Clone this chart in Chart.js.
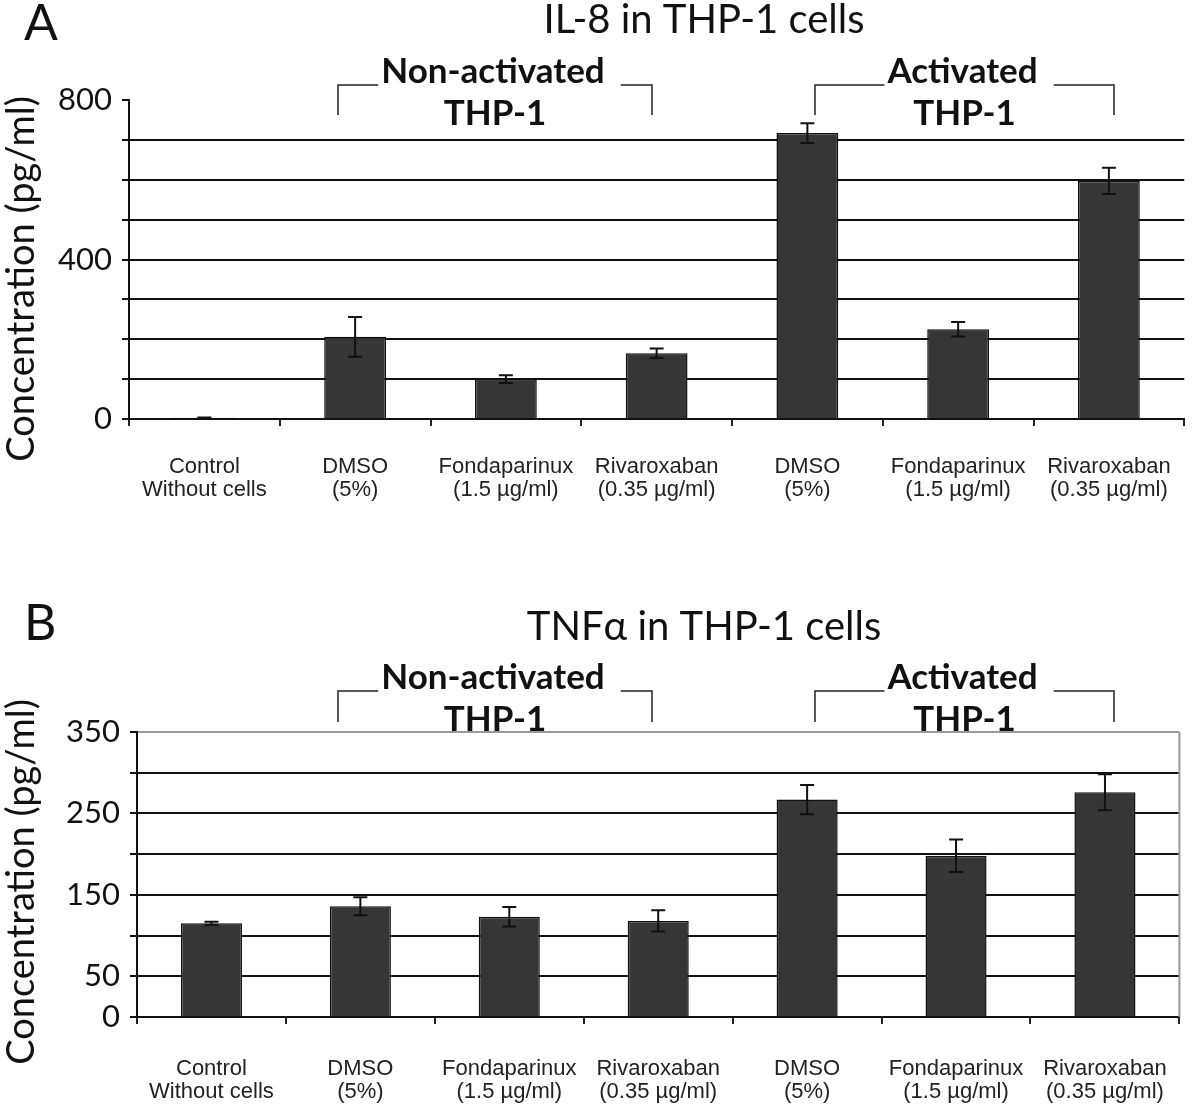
<!DOCTYPE html>
<html>
<head>
<meta charset="utf-8">
<script src="https://cdn.jsdelivr.net/npm/chart.js@4.4.1/dist/chart.umd.min.js"></script>
<style>
  body { margin: 0; background: #fff; }
  canvas { position: absolute; left: 0; }
  #il8 { top: 0; }
  #tnf { top: 600px; }
</style>
</head>
<body>
<canvas id="il8" width="1200" height="560"></canvas>
<canvas id="tnf" width="1200" height="509"></canvas>
<script>
var categories = [
  ["Control", "Without cells"],
  ["DMSO", "(5%)"],
  ["Fondaparinux", "(1.5 µg/ml)"],
  ["Rivaroxaban", "(0.35 µg/ml)"],
  ["DMSO", "(5%)"],
  ["Fondaparinux", "(1.5 µg/ml)"],
  ["Rivaroxaban", "(0.35 µg/ml)"]
];

// IL-8 (pg/ml), mean and error
var il8Values = [3, 206, 100, 165, 717, 225, 597];
var il8Errors = [1, 50, 10, 12, 25, 18, 33];
var il8TickLabels = [0, 400, 800];

// TNFa (pg/ml), mean and error
var tnfValues = [115, 136, 123, 118, 267, 198, 276];
var tnfErrors = [2, 11, 12, 13, 18, 20, 22];
var tnfTickLabels = [0, 50, 150, 250, 350];

var groupNames = [["Non-activated", "THP-1"], ["Activated", "THP-1"]];

var FONT = "Lato";

function makeChart(id, cfg) {
  var overlay = {
    id: 'overlay',
    afterDatasetsDraw: function (chart) {
      var ctx = chart.ctx, ys = chart.scales.y;
      var meta = chart.getDatasetMeta(0);
      ctx.save();
      ctx.strokeStyle = '#111';
      ctx.lineWidth = 2;
      cfg.errors.forEach(function (e, i) {
        var v = cfg.values[i], x = meta.data[i].x;
        var top = ys.getPixelForValue(v + e);
        var bot = ys.getPixelForValue(Math.max(0, v - e));
        ctx.beginPath();
        ctx.moveTo(x, top); ctx.lineTo(x, bot);
        ctx.moveTo(x - 7, top); ctx.lineTo(x + 7, top);
        ctx.moveTo(x - 7, bot); ctx.lineTo(x + 7, bot);
        ctx.stroke();
      });
      ctx.restore();
    },
    afterDraw: function (chart) {
      var ctx = chart.ctx, area = chart.chartArea;
      ctx.save();
      ctx.fillStyle = '#111';

      // panel letter
      ctx.font = '50px ' + FONT;
      ctx.textAlign = 'left';
      ctx.textBaseline = 'middle';
      ctx.fillText(cfg.letter, 24, cfg.letterY);

      // title
      ctx.font = '40px ' + FONT;
      ctx.textAlign = 'center';
      ctx.fillText(cfg.title, 704, cfg.titleY);

      // y axis title
      ctx.save();
      ctx.translate(34, cfg.yTitleCenter);
      ctx.rotate(-Math.PI / 2);
      ctx.font = '38px ' + FONT;
      ctx.textBaseline = 'alphabetic';
      ctx.fillText('Concentration (pg/ml)', 0, 0);
      ctx.restore();

      // group brackets
      ctx.font = 'bold 35px ' + FONT;
      ctx.textBaseline = 'middle';
      ctx.strokeStyle = '#222';
      ctx.lineWidth = 1.5;
      cfg.brackets.forEach(function (b, k) {
        var mid = (b[0] + b[1]) / 2;
        var w = ctx.measureText(groupNames[k][0]).width;
        ctx.beginPath();
        ctx.moveTo(b[0], cfg.bracketBottom);
        ctx.lineTo(b[0], cfg.bracketY);
        ctx.lineTo(mid - w / 2 - 5, cfg.bracketY);
        ctx.moveTo(mid + w / 2 + 14, cfg.bracketY);
        ctx.lineTo(b[1], cfg.bracketY);
        ctx.lineTo(b[1], cfg.bracketBottom);
        ctx.stroke();
        ctx.fillText(groupNames[k][0], mid - 2, cfg.bracketY - 13);
        ctx.fillText(groupNames[k][1], mid, cfg.bracketY + 29);
      });

      if (cfg.frame) {
        ctx.strokeStyle = '#999';
        ctx.lineWidth = 2;
        ctx.beginPath();
        ctx.moveTo(area.right, area.top);
        ctx.lineTo(area.right, area.bottom);
        ctx.stroke();
      }
      ctx.restore();
    }
  };

  return new Chart(document.getElementById(id), {
    type: 'bar',
    data: {
      labels: categories,
      datasets: [{
        data: cfg.values,
        backgroundColor: '#363636',
        borderColor: '#111',
        borderWidth: 1.5,
        barPercentage: 0.41,
        categoryPercentage: 1
      }]
    },
    options: {
      responsive: false,
      animation: false,
      layout: { padding: { top: cfg.top, right: cfg.right, left: 0, bottom: 0 } },
      plugins: { legend: { display: false }, tooltip: { enabled: false } },
      scales: {
        x: {
          grid: { drawOnChartArea: false, tickLength: 7, color: '#222', lineWidth: 2 },
          border: { color: '#111', width: 2 },
          ticks: {
            font: { family: 'Liberation Sans', size: 22, lineHeight: 1.05 },
            color: '#222',
            padding: cfg.xPad,
            maxRotation: 0,
            autoSkip: false
          },
          afterFit: function (s) { s.height = cfg.xHeight; }
        },
        y: {
          min: 0,
          max: cfg.max,
          ticks: {
            stepSize: cfg.step,
            autoSkip: false,
            font: { family: FONT, size: 31 },
            color: '#111',
            padding: 10,
            callback: function (v) { return cfg.tickLabels.indexOf(v) >= 0 ? v : ''; }
          },
          grid: {
            lineWidth: 2,
            tickLength: 7,
            tickColor: '#111',
            color: function (c) {
              if (c.tick && c.tick.value === cfg.max) return cfg.frame ? '#999' : 'rgba(0,0,0,0)';
              return '#111';
            }
          },
          border: { color: '#111', width: 2 },
          afterFit: function (s) { s.width = cfg.left; }
        }
      }
    },
    plugins: [overlay]
  });
}

makeChart('il8', {
  values: il8Values, errors: il8Errors, tickLabels: il8TickLabels,
  max: 800, step: 100, letter: 'A', title: 'IL-8 in THP-1 cells',
  top: 100, right: 5, left: 129, xHeight: 141, xPad: 29,
  letterY: 24, titleY: 20, yTitleCenter: 279,
  bracketY: 85, bracketBottom: 115,
  brackets: [[338, 652], [815, 1114]],
  frame: false
});

makeChart('tnf', {
  values: tnfValues, errors: tnfErrors, tickLabels: tnfTickLabels,
  max: 350, step: 50, letter: 'B', title: 'TNF\u03b1 in THP-1 cells',
  top: 132, right: 4, left: 137, xHeight: 92, xPad: 33,
  letterY: 24, titleY: 27, yTitleCenter: 282,
  bracketY: 91, bracketBottom: 122,
  brackets: [[338, 652], [815, 1114]],
  frame: true
});
</script>
</body>
</html>
